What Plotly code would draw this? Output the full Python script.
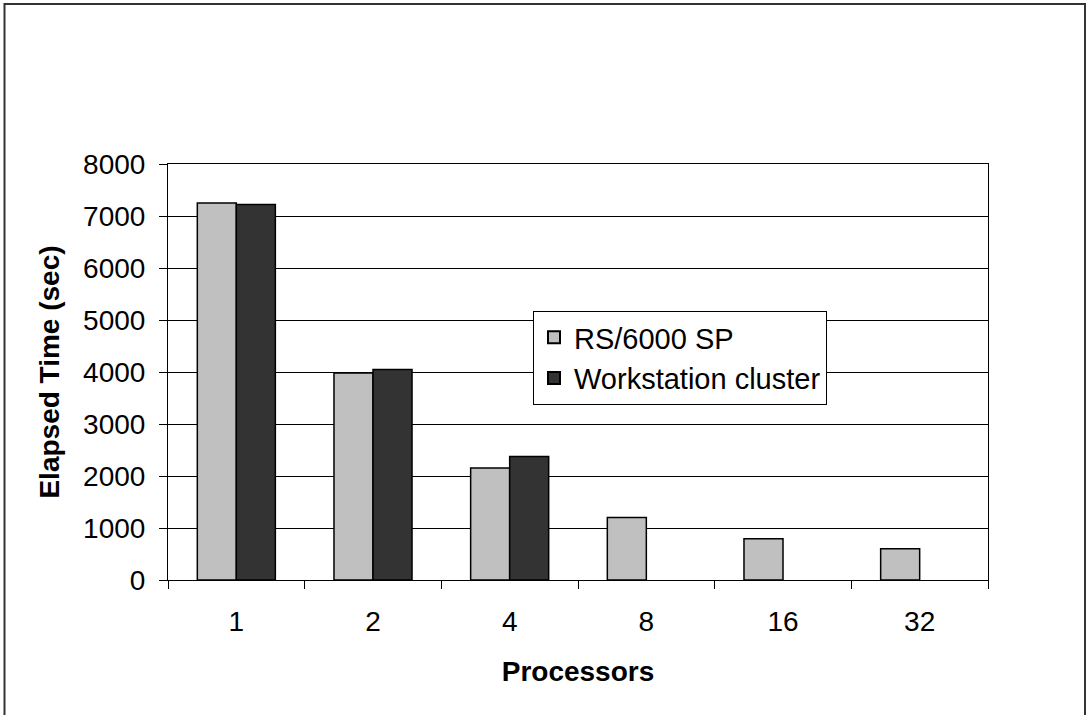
import plotly.graph_objects as go

processors = ["1", "2", "4", "8", "16", "32"]
rs6000_sp = [7250, 3980, 2155, 1200, 795, 600]
workstation_cluster = [7220, 4050, 2375, None, None, None]
y_ticks = [0, 1000, 2000, 3000, 4000, 5000, 6000, 7000, 8000]

W, H = 1086, 715
L, R, T, B = 168, 98, 164, 135
pw, ph = W - L - R, H - T - B

FONT = "Liberation Sans, Arial, sans-serif"

fig = go.Figure()
fig.add_trace(go.Bar(
    x=processors, y=rs6000_sp, name="RS/6000 SP",
    marker=dict(color="#C0C0C0", line=dict(color="#000000", width=1.5)),
))
fig.add_trace(go.Bar(
    x=processors, y=workstation_cluster, name="Workstation cluster",
    marker=dict(color="#333333", line=dict(color="#000000", width=1.5)),
))

fig.update_layout(
    width=W, height=H,
    margin=dict(l=L, r=R, t=T, b=B, autoexpand=False),
    paper_bgcolor="white", plot_bgcolor="white",
    barmode="group", bargap=0.429, bargroupgap=0,
    font=dict(family=FONT, size=28, color="black"),
    legend=dict(
        x=(533 - L) / pw, y=(H - B - 311) / ph, xanchor="left", yanchor="top",
        bgcolor="white", bordercolor="black", borderwidth=1,
        font=dict(family=FONT, size=29, color="black"),
        tracegroupgap=0, itemsizing="constant", itemwidth=30,
    ),
    showlegend=True,
)

fig.update_xaxes(
    type="category", tickson="boundaries", ticks="outside", ticklen=8,
    tickcolor="black", showline=True, linecolor="black", linewidth=1,
    mirror=True, showgrid=False, ticklabelstandoff=16,
    title=dict(text="<b>Processors</b>", font=dict(family=FONT, size=28), standoff=25),
)
fig.update_yaxes(
    range=[0, 8000], tickvals=y_ticks, ticks="outside", ticklen=8,
    tickcolor="black", showline=True, linecolor="black", linewidth=1,
    mirror=True, showgrid=True, gridcolor="black", gridwidth=1,
    zeroline=False, ticklabelstandoff=8,
    title=dict(text="<b>Elapsed Time (sec)</b>", font=dict(family=FONT, size=28), standoff=15),
)

# outer chart frame
fig.add_shape(
    type="rect", xref="paper", yref="paper",
    x0=(4.5 - L) / pw, x1=(1085 - L) / pw,
    y0=(H - B - 720) / ph, y1=(H - B - 4) / ph,
    line=dict(color="#333333", width=2), fillcolor="rgba(0,0,0,0)", layer="below",
)

fig.write_html("out.html", config={"displayModeBar": False},
               post_script="document.body.style.margin='0';")
